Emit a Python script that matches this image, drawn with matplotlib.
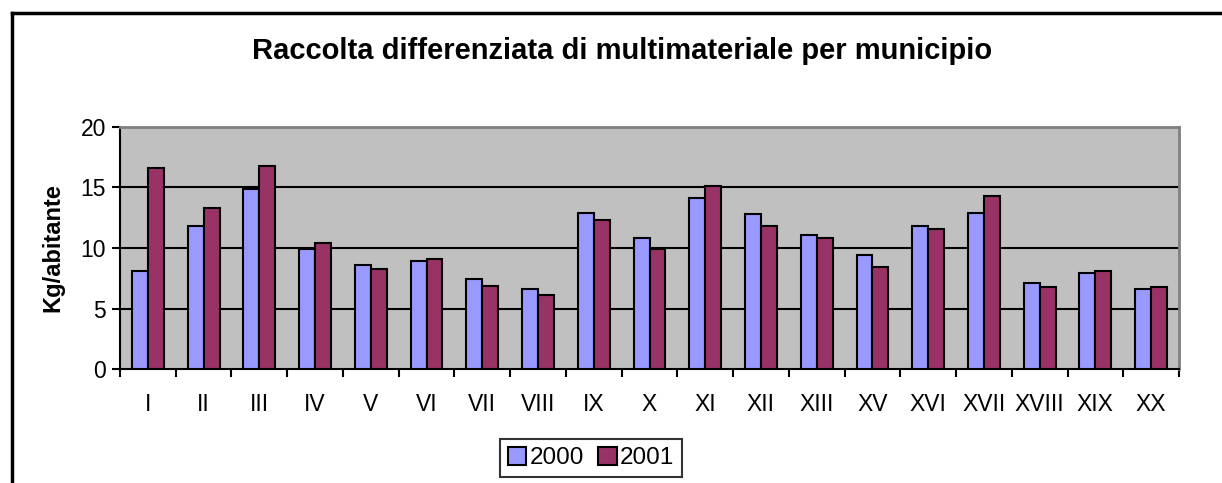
import numpy as np
import matplotlib.pyplot as plt
from matplotlib.lines import Line2D

# dati: kg/abitante per municipio
municipi = ['I', 'II', 'III', 'IV', 'V', 'VI', 'VII', 'VIII', 'IX', 'X',
            'XI', 'XII', 'XIII', 'XV', 'XVI', 'XVII', 'XVIII', 'XIX', 'XX']
val_2000 = [8.1, 11.8, 14.9, 9.9, 8.6, 8.9, 7.4, 6.6, 12.9, 10.8,
            14.1, 12.8, 11.1, 9.4, 11.8, 12.9, 7.1, 7.9, 6.6]
val_2001 = [16.6, 13.3, 16.8, 10.4, 8.3, 9.1, 6.9, 6.1, 12.3, 9.9,
            15.1, 11.8, 10.8, 8.4, 11.6, 14.3, 6.8, 8.1, 6.8]

plt.rcParams['font.family'] = ['Liberation Sans', 'DejaVu Sans']

W, H = 1222, 483
fig = plt.figure(figsize=(W / 100, H / 100), dpi=100)
ax = fig.add_axes([120 / W, 1 - 369 / H, (1179 - 120) / W, (369 - 127) / H])
ax.set_facecolor('#C0C0C0')

x = np.arange(len(municipi))
w = 1 / 3.5
ax.bar(x - w / 2, val_2000, w, color='#9999FF', edgecolor='black', linewidth=1.5, label='2000', zorder=3)
ax.bar(x + w / 2, val_2001, w, color='#993366', edgecolor='black', linewidth=1.5, label='2001', zorder=3)

ax.set_xlim(-0.5, len(municipi) - 0.5)
ax.set_ylim(0, 20)
ax.set_yticks([0, 5, 10, 15, 20])
for g in [5, 10, 15]:
    ax.axhline(g, color='black', linewidth=1.5, zorder=1)

ax.set_xticks(x)
ax.set_xticklabels(municipi)
ax.set_xticks(np.arange(-0.5, len(municipi)), minor=True)
ax.tick_params(axis='x', which='major', length=0, labelsize=16.5, pad=17)
ax.tick_params(axis='x', which='minor', length=6, width=1.5, direction='out')
ax.tick_params(axis='y', length=6, width=1.5, direction='out', labelsize=16.5, pad=4)

for s in ['top', 'right']:
    ax.spines[s].set_color('#808080')
    ax.spines[s].set_linewidth(2)
for s in ['left', 'bottom']:
    ax.spines[s].set_color('black')
    ax.spines[s].set_linewidth(1.5)

ax.set_ylabel('Kg/abitante', fontsize=17, fontweight='bold', labelpad=12)

fig.text(622 / W, 1 - 51 / H, 'Raccolta differenziata di multimateriale per municipio',
         ha='center', va='center', fontsize=21, fontweight='bold')

leg = ax.legend(loc='center', bbox_to_anchor=(591 / W, 1 - 458 / H), bbox_transform=fig.transFigure,
                ncol=2, fontsize=17.5, frameon=True, fancybox=False, edgecolor='black',
                handlelength=0.75, handleheight=0.8, handletextpad=0.15, columnspacing=0.6,
                borderpad=0.3, borderaxespad=0)
leg.get_frame().set_linewidth(1.5)

# cornice esterna del grafico (solo lati sinistro e superiore visibili)
fig.add_artist(Line2D([12 / W, 12 / W], [0, 1 - 13 / H], transform=fig.transFigure, color='black', linewidth=2.5))
fig.add_artist(Line2D([12 / W, 1], [1 - 13 / H, 1 - 13 / H], transform=fig.transFigure, color='black', linewidth=2.5))

fig.savefig('out.png', dpi=100)
